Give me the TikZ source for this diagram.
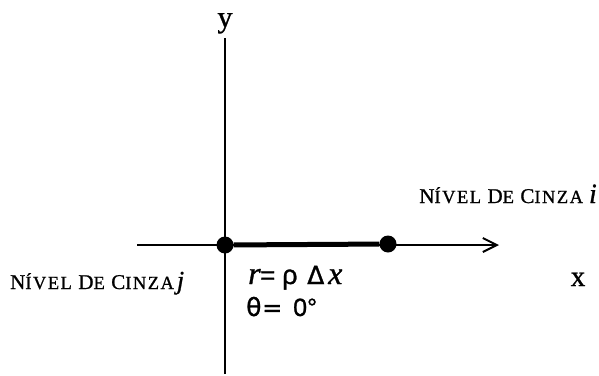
\documentclass[tikz,border=0pt]{standalone}
\usepackage{fontspec}
\setmainfont[FakeBold=1]{Liberation Serif}
\newfontfamily\sansf[FakeBold=1]{Liberation Sans}
\newfontfamily\dejav[FakeBold=1]{DejaVu Sans}
\newfontfamily\scf[LetterSpace=8,FakeBold=1]{Liberation Serif}
\usetikzlibrary{arrows.meta}
\newcommand\bigc[1]{{\fontsize{21}{21}\scf #1}}
\newcommand\smc[1]{{\fontsize{18.5}{19}\scf #1}}
\newcommand\graylabel{{\fontsize{19.5}{20}\scf\bigc{N}\smc{ÍVEL} \bigc{D}\smc{E} \bigc{C}\smc{INZA}}}
\tikzset{
  axis/.style={line width=2pt},
  dot/.style={circle,fill=black,inner sep=0pt,minimum size=17pt},
  lbl/.style={inner sep=0pt},
}
\begin{document}
\begin{tikzpicture}[x=1pt,y=-1pt]
\useasboundingbox (0,0) rectangle (599,375);
\coordinate (yb) at (225,374);
\coordinate (yt) at (225,38);
\coordinate (xl) at (137,245);
\coordinate (xr) at (499,245);
\draw[axis] (yb) -- (yt);
\draw[axis,-{Straight Barb[length=14pt,width=14pt,line width=2pt]}] (xl) -- (xr);
\node[dot] (o) at (225,245) {};
\node[dot] (p) at (388,244) {};
\draw[line width=5pt] (o) -- (p);
\node[lbl,anchor=base] (ylab) at (225,27) {\fontsize{30}{30}\selectfont y};
\node[lbl,anchor=base] (xlab) at (578,286) {\fontsize{29}{29}\selectfont x};
\node[lbl,anchor=base west] (lj) at (10,289) {\graylabel\hspace{3pt}{\fontsize{26}{26}\selectfont\itshape j}};
\node[lbl,anchor=base east] (li) at (597,203) {\graylabel\hspace{6pt}{\fontsize{28}{28}\selectfont\itshape i}};
\node[lbl,anchor=base west] (r) at (248,284) {\makebox[12pt][l]{\fontsize{32}{32}\selectfont\itshape r}\makebox[22pt][l]{\fontsize{26}{26}\sansf =}\makebox[25pt][l]{\fontsize{27}{27}\sansf ρ}\makebox[21pt][l]{\fontsize{25}{25}\dejav Δ}{\fontsize{32}{32}\selectfont\itshape x}};
\node[lbl,anchor=base west] (t) at (246,316) {\makebox[16pt][l]{\fontsize{25}{25}\dejav θ}\makebox[31pt][l]{\fontsize{24}{24}\dejav =}{\fontsize{25}{25}\sansf 0°}};
\end{tikzpicture}
\end{document}
